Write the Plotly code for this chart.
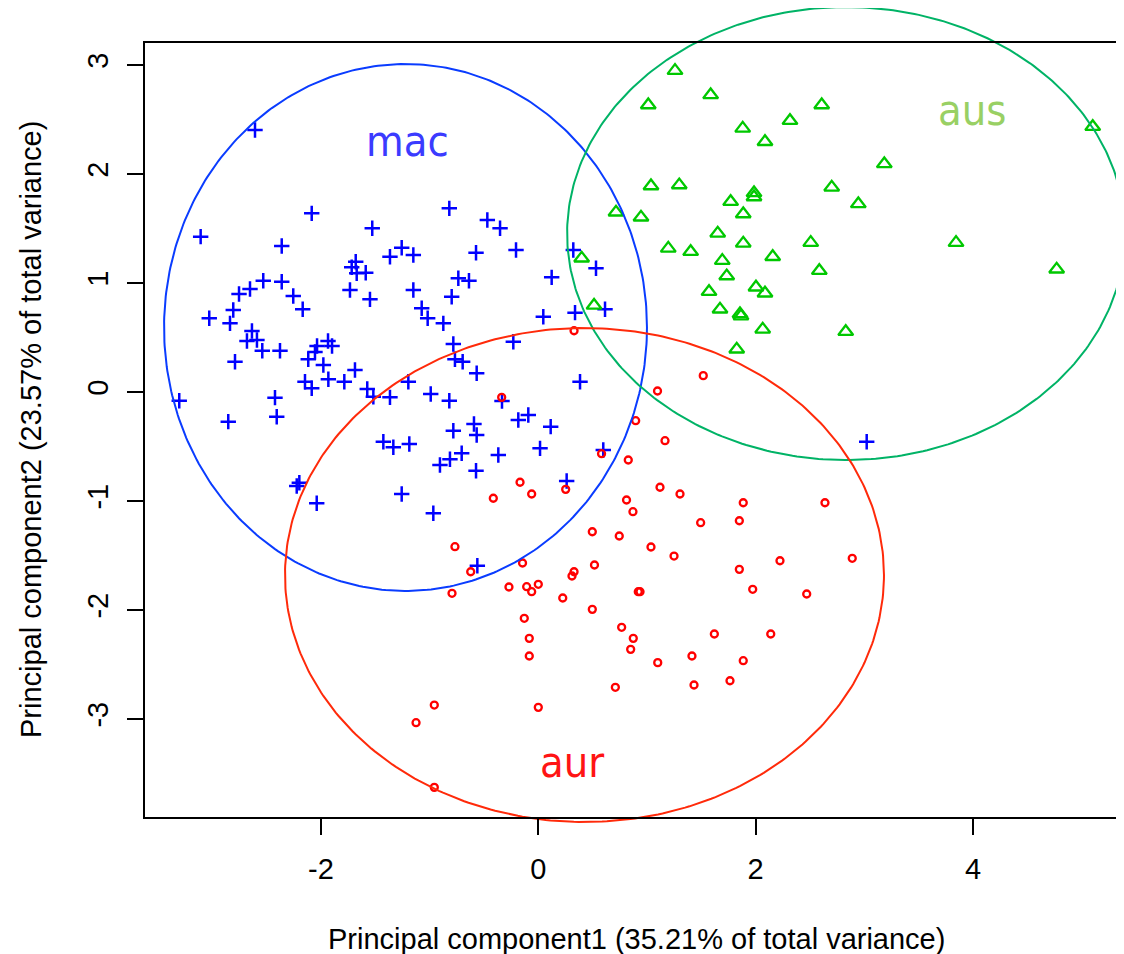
import numpy as np
import plotly.graph_objects as go

# ---------------- data ----------------
groups = ["mac", "aus", "aur"]

mac_x = [-2.607, -2.085, -3.107, -1.528, -2.361, -1.257, -1.365, -1.150, -1.680, -1.717,
         -1.671, -1.588, -1.733, -1.549, -1.150, -2.531, -2.361, -2.653, -2.754, -2.255,
         -2.168, -2.807, -3.028, -2.837, -2.635, -2.681, -2.589, -2.540, -2.377, -2.791,
         -2.036, -1.935, -1.898, -2.055, -2.117, -1.978, -1.687, -2.147, -2.085, -1.932,
         -1.785, -1.574, -1.518, -1.365, -1.196, -3.304, -2.423, -2.407, -2.853, -1.426,
         -1.334, -1.187, -2.199, -2.223, -2.039, -1.257, -0.819, -0.469, -0.352, -0.573,
         -0.205, 0.322, 0.531, 0.123, -0.736, -0.638, -0.797, -1.073, -1.018, -0.874,
         0.046, 0.338, 0.614, -0.782, -0.230, -0.767, -0.696, -0.567, 0.384, -0.990,
         -0.819, -0.334, -0.092, -0.184, -0.592, -0.782, -0.567, 0.114, -0.705, -0.813,
         -0.905, -0.368, 0.016, -0.573, 0.598, 0.261, -0.966, -0.561, 3.022]
mac_y = [2.404, 1.639, 1.425, 1.502, 1.339, 1.324, 1.241, 1.257, 1.195, 1.144,
         1.089, 1.094, 0.936, 0.850, 0.936, 1.021, 1.012, 0.945, 0.899, 0.881,
         0.759, 0.752, 0.676, 0.630, 0.560, 0.468, 0.477, 0.379, 0.379, 0.278,
         0.422, 0.468, 0.422, 0.367, 0.300, 0.248, 0.202, 0.094, 0.034, 0.117,
         0.094, 0.028, -0.043, -0.049, 0.094, -0.080, -0.052, -0.227, -0.272, -0.456,
         -0.507, -0.477, -0.832, -0.862, -1.021, -0.936, 1.685, 1.578, 1.502, 1.278,
         1.303, 1.303, 1.135, 1.052, 1.043, 1.021, 0.874, 0.768, 0.676, 0.630,
         0.691, 0.728, 0.759, 0.440, 0.461, 0.300, 0.278, 0.172, 0.094, -0.018,
         -0.080, -0.083, -0.211, -0.257, -0.294, -0.355, -0.394, -0.318, -0.562, -0.617,
         -0.670, -0.578, -0.517, -0.722, -0.532, -0.817, -1.113, -1.594, -0.456]

aus_x = [1.258, 1.586, 1.012, 2.608, 2.316, 1.881, 2.086, 3.184, 1.037, 1.297,
         2.700, 1.985, 1.985, 1.770, 2.945, 1.886, 0.715, 0.945, 1.651, 1.886,
         2.507, 1.196, 1.402, 2.157, 1.693, 2.586, 1.734, 2.003, 2.086, 1.571,
         1.672, 1.856, 1.865, 2.065, 2.829, 1.826, 0.399, 0.513, 3.844, 4.770, 5.102]
aus_y = [2.948, 2.725, 2.633, 2.633, 2.489, 2.419, 2.296, 2.092, 1.890, 1.899,
         1.878, 1.826, 1.789, 1.746, 1.725, 1.633, 1.649, 1.603, 1.456, 1.364,
         1.370, 1.318, 1.287, 1.241, 1.205, 1.113, 1.064, 0.961, 0.906, 0.920,
         0.759, 0.716, 0.697, 0.575, 0.553, 0.392, 1.227, 0.794, 1.370, 1.126, 2.434]

aur_x = [0.329, -0.337, 1.097, 1.518, 0.896, 0.582, 0.828, 1.166, -0.168, -0.061,
         -0.414, 0.252, 1.120, 1.304, 0.812, 0.871, 1.886, 2.638, 1.494, 1.850,
         0.497, 0.745, 1.037, 1.249, -0.767, -0.145, 0.517, 2.224, 2.889, 1.850,
         -0.622, 0.329, 0.310, -0.270, -0.107, -0.061, 0.000, -0.794, 0.225, 0.920,
         0.936, 1.973, 2.470, 0.497, -0.129, 0.767, 0.874, -0.083, 0.850, -0.083,
         1.620, 2.139, 1.099, 1.414, 1.886, 0.709, 1.433, 1.764, -0.957, 0.000,
         -1.125, -0.957]
aur_y = [0.562, -0.049, 0.009, 0.150, -0.263, -0.566, -0.624, -0.447, -0.828, -0.936,
         -0.975, -0.893, -0.874, -0.936, -0.991, -1.098, -1.016, -1.016, -1.199, -1.181,
         -1.282, -1.321, -1.422, -1.505, -1.419, -1.569, -1.587, -1.548, -1.526, -1.627,
         -1.649, -1.649, -1.688, -1.789, -1.786, -1.832, -1.764, -1.847, -1.890, -1.832,
         -1.832, -1.810, -1.853, -1.994, -2.076, -2.159, -2.260, -2.260, -2.361, -2.422,
         -2.220, -2.220, -2.483, -2.422, -2.465, -2.709, -2.688, -2.649, -2.872, -2.893,
         -3.034, -3.627]

# ellipse (centre, semi-axes) per group, order as in `groups`
ell_cx = [-1.222, 2.832, 0.425]
ell_cy = [0.592, 1.454, -1.679]
ell_a = [2.222, 2.567, 2.756]
ell_b = [2.417, 2.078, 2.266]

# group label anchor points
label_x = [-1.20, 3.99, 0.31]
label_y = [2.30, 2.59, -3.39]

x_ticks = [-2, 0, 2, 4]
y_ticks = [-3, -2, -1, 0, 1, 2, 3]
x_title = "Principal component1 (35.21% of total variance)"
y_title = "Principal component2 (23.57% of total variance)"

# ---------------- styling / layout calibration ----------------
OFF = 8                              # page body margin of the browser
W, H = 1124 - 2 * OFF, 954 - OFF     # figure size in pixels
# screen-pixel geometry of the reference, converted to figure pixels
BOX_L, BOX_R, BOX_T, BOX_B = 145 - OFF, W, 43 - OFF, 817 - OFF
X0_PX, SX = 538.3 - OFF, 108.67   # pixel of x=0, pixels per x unit
Y0_PX, SY = 392.0 - OFF, 109.0    # pixel of y=0, pixels per y unit


def xv(px):
    return (px - X0_PX) / SX


def yv(py):
    return (Y0_PX - py) / SY


point_col = ["#0000FF", "#00C800", "#FF0000"]
ell_col = ["#0A3CFF", "#00B366", "#FF2A0A"]
label_col = ["#3B3BFF", "#99D064", "#FF1414"]
AXFONT = "Liberation Sans, Arial, Helvetica, sans-serif"
LABFONT = "DejaVu Sans Condensed, DejaVu Sans, Verdana, sans-serif"

fig = go.Figure()

fig.add_trace(go.Scatter(
    x=mac_x, y=mac_y, mode="markers", name=groups[0],
    marker=dict(symbol="cross-thin-open", size=11, color=point_col[0],
                line=dict(color=point_col[0], width=2.5)),
    xaxis="x", yaxis="y"))
fig.add_trace(go.Scatter(
    x=aus_x, y=aus_y, mode="markers", name=groups[1],
    marker=dict(symbol="triangle-up-open", size=13, color=point_col[1],
                line=dict(color=point_col[1], width=2.3)),
    xaxis="x", yaxis="y"))
fig.add_trace(go.Scatter(
    x=aur_x, y=aur_y, mode="markers", name=groups[2],
    marker=dict(symbol="circle-open", size=7, color=point_col[2],
                line=dict(color=point_col[2], width=2.3)),
    xaxis="x", yaxis="y"))

t = np.linspace(0, 2 * np.pi, 400)
for i in range(3):
    fig.add_trace(go.Scatter(
        x=ell_cx[i] + ell_a[i] * np.cos(t),
        y=ell_cy[i] + ell_b[i] * np.sin(t),
        mode="lines", line=dict(color=ell_col[i], width=2),
        hoverinfo="skip", xaxis="x", yaxis="y"))

# empty trace so that the framed axes (x2/y2) are drawn
fig.add_trace(go.Scatter(x=[], y=[], mode="markers", xaxis="x2", yaxis="y2",
                         hoverinfo="skip"))

annotations = []
for i in range(3):
    annotations.append(dict(
        x=label_x[i], y=label_y[i], xref="x", yref="y", text=groups[i],
        showarrow=False, xanchor="center", yanchor="middle",
        font=dict(family=LABFONT, size=43, color=label_col[i])))

annotations.append(dict(
    x=(636.5 - OFF) / W, y=1 - (938.5 - OFF) / H, xref="paper", yref="paper",
    text=x_title, showarrow=False, xanchor="center", yanchor="middle",
    font=dict(family=AXFONT, size=29, color="black")))
annotations.append(dict(
    x=(31 - OFF) / W, y=1 - (430 - OFF) / H, xref="paper", yref="paper",
    text=y_title, showarrow=False, xanchor="center", yanchor="middle",
    textangle=-90, font=dict(family=AXFONT, size=29, color="black")))

fig.update_layout(
    width=W, height=H,
    margin=dict(l=0, r=0, t=0, b=0, pad=0),
    paper_bgcolor="white", plot_bgcolor="rgba(0,0,0,0)",
    showlegend=False,
    annotations=annotations,
    xaxis=dict(domain=[0, 1], range=[xv(0), xv(W)], visible=False, fixedrange=True),
    yaxis=dict(domain=[0, 1], range=[yv(H), yv(0)], visible=False, fixedrange=True),
    xaxis2=dict(domain=[BOX_L / W, BOX_R / W], range=[xv(BOX_L), xv(BOX_R)],
                anchor="y2", showline=True, linecolor="black", linewidth=2,
                mirror=True, ticks="outside", ticklen=16, tickwidth=2,
                tickcolor="black", tickmode="array", tickvals=x_ticks,
                ticktext=[str(v) for v in x_ticks], ticklabelstandoff=9,
                showgrid=False, zeroline=False, automargin=False, fixedrange=True,
                tickfont=dict(family=AXFONT, size=29, color="black")),
    yaxis2=dict(domain=[1 - BOX_B / H, 1 - BOX_T / H], range=[yv(BOX_B), yv(BOX_T)],
                anchor="x2", showline=True, linecolor="black", linewidth=2,
                mirror=False, ticks="outside", ticklen=16, tickwidth=2,
                tickcolor="black", tickmode="array", tickvals=y_ticks,
                ticktext=[str(v) for v in y_ticks], ticklabelstandoff=7,
                showgrid=False, zeroline=False, automargin=False, tickangle=-90,
                fixedrange=True,
                tickfont=dict(family=AXFONT, size=29, color="black")),
)

fig.write_html("out.html")
